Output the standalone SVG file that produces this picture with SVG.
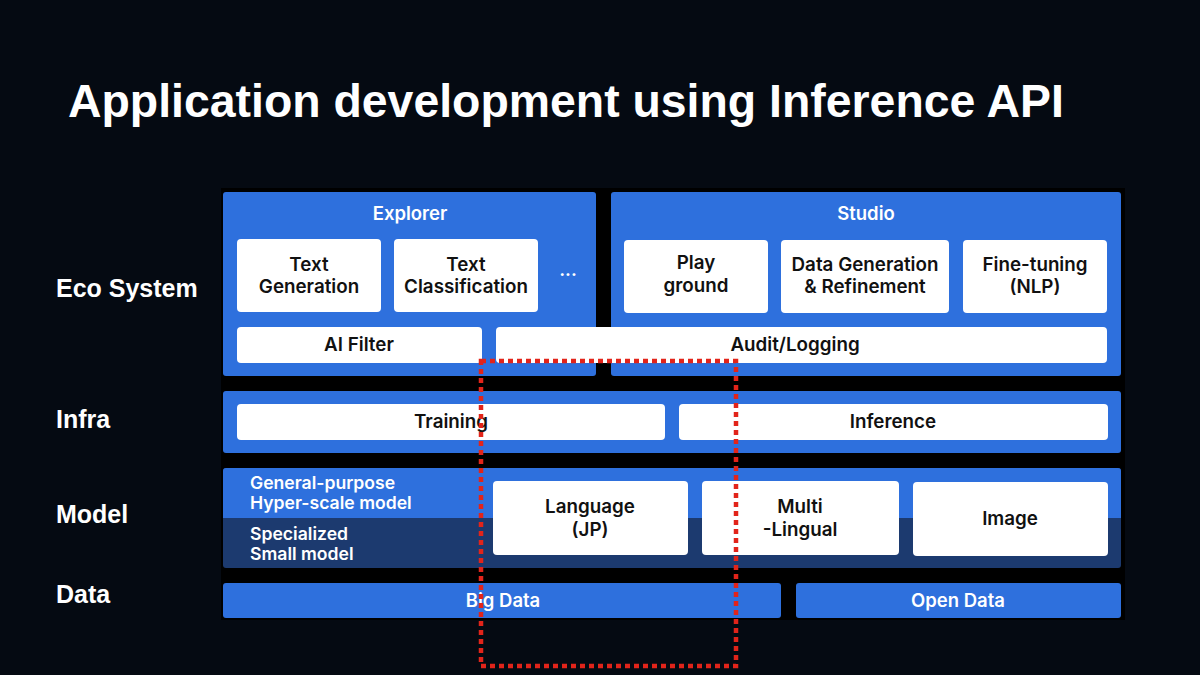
<svg xmlns="http://www.w3.org/2000/svg" width="1200" height="675" viewBox="0 0 1200 675">
  <style>
    .panel { fill: #2e70dd; }
    .dark { fill: #1c3a6f; }
    .box { fill: #ffffff; }
    .bt { font-family: Inter, "Noto Sans", sans-serif; font-weight: 600; font-size: 18.8px; fill: #111111; text-anchor: middle; }
    .wt { font-family: Inter, "Noto Sans", sans-serif; font-weight: 600; font-size: 18.5px; fill: #ffffff; text-anchor: middle; }
    .mt { font-family: Inter, "Noto Sans", sans-serif; font-weight: 600; font-size: 17.6px; fill: #ffffff; }
    .lbl { font-family: "Liberation Sans", Arial, sans-serif; font-weight: bold; font-size: 25px; fill: #ffffff; }
  </style>
  <rect width="1200" height="675" fill="#050a12"/>
  <text x="68" y="117" font-family="'Liberation Sans', Arial, sans-serif" font-weight="bold" font-size="46.4" fill="#ffffff">Application development using Inference API</text>

  <rect x="221" y="188" width="904" height="432" fill="#000000"/>

  <g id="labels">
    <text class="lbl" x="56" y="297">Eco System</text>
    <text class="lbl" x="56" y="428">Infra</text>
    <text class="lbl" x="56" y="523">Model</text>
    <text class="lbl" x="56" y="603">Data</text>
  </g>

  <g id="explorer">
    <rect class="panel" x="223" y="192" width="373" height="184" rx="3"/>
    <text class="wt" x="410" y="220" font-size="17.5">Explorer</text>
    <rect class="box" x="237" y="239" width="144" height="73" rx="4"/>
    <text class="bt" x="309" y="271">Text</text>
    <text class="bt" x="309" y="293">Generation</text>
    <rect class="box" x="394" y="239" width="144" height="73" rx="4"/>
    <text class="bt" x="466" y="271">Text</text>
    <text class="bt" x="466" y="293">Classification</text>
    <text class="wt" x="568" y="281">···</text>
    <rect class="box" x="237" y="327" width="245" height="36" rx="4"/>
    <text class="bt" x="359" y="351">AI Filter</text>
  </g>

  <g id="studio">
    <rect class="panel" x="611" y="192" width="510" height="184" rx="3"/>
    <text class="wt" x="866" y="220" font-size="17.5">Studio</text>
    <rect class="box" x="624" y="240" width="144" height="73" rx="4"/>
    <text class="bt" x="696" y="269">Play</text>
    <text class="bt" x="696" y="292">ground</text>
    <rect class="box" x="781" y="240" width="168" height="73" rx="4"/>
    <text class="bt" x="865" y="271">Data Generation</text>
    <text class="bt" x="865" y="293">&amp; Refinement</text>
    <rect class="box" x="963" y="240" width="144" height="73" rx="4"/>
    <text class="bt" x="1035" y="271">Fine-tuning</text>
    <text class="bt" x="1035" y="293">(NLP)</text>
  </g>

  <g id="audit">
    <rect class="box" x="496" y="327" width="611" height="36" rx="4"/>
    <text class="bt" x="795" y="351">Audit/Logging</text>
  </g>

  <g id="infra">
    <rect class="panel" x="223" y="391" width="898" height="62" rx="3"/>
    <rect class="box" x="237" y="404" width="428" height="36" rx="4"/>
    <text class="bt" x="451" y="428">Training</text>
    <rect class="box" x="679" y="404" width="429" height="36" rx="4"/>
    <text class="bt" x="893" y="428">Inference</text>
  </g>

  <g id="model">
    <rect class="dark" x="223" y="468" width="898" height="100" rx="3"/>
    <path class="panel" d="M226,468 H1118 A3,3 0 0 1 1121,471 V518 H223 V471 A3,3 0 0 1 226,468 Z"/>
    <text class="mt" x="250" y="489">General-purpose</text>
    <text class="mt" x="250" y="509">Hyper-scale model</text>
    <text class="mt" x="250" y="540">Specialized</text>
    <text class="mt" x="250" y="560">Small model</text>
    <rect class="box" x="493" y="481" width="195" height="74" rx="4"/>
    <text class="bt" x="590" y="513">Language</text>
    <text class="bt" x="590" y="536">(JP)</text>
    <rect class="box" x="702" y="481" width="197" height="74" rx="4"/>
    <text class="bt" x="800" y="513">Multi</text>
    <text class="bt" x="800" y="536">-Lingual</text>
    <rect class="box" x="913" y="482" width="195" height="74" rx="4"/>
    <text class="bt" x="1010" y="525">Image</text>
  </g>

  <g id="data">
    <rect class="panel" x="223" y="583" width="558" height="35" rx="3"/>
    <text class="wt" x="503" y="607">Big Data</text>
    <rect class="panel" x="796" y="583" width="325" height="35" rx="3"/>
    <text class="wt" x="958" y="607">Open Data</text>
  </g>

  <g id="connectors">
    <rect x="481" y="361" width="255" height="305" fill="none" stroke="#e2241a" stroke-width="4.5" stroke-dasharray="5 4"/>
  </g>
</svg>
